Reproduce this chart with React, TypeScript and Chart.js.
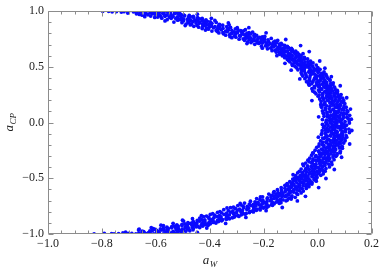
import React, { useEffect, useRef } from "react";
import { Chart, registerables } from "chart.js";

Chart.register(...registerables);

const xTicks = [-1.0, -0.8, -0.6, -0.4, -0.2, 0.0, 0.2];
const yTicks = [-1.0, -0.5, 0.0, 0.5, 1.0];
const xTitle = { main: "a", sub: "W" };
const yTitle = { main: "a", sub: "CP" };

// [a_W, a_CP] samples (a_CP > 0)
const upperBranch: [number, number][] = [
  [0.031,0.004],[0.074,0.016],[0.102,0.009],[0.052,0.012],
  [0.018,0.027],[0.088,0.022],[0.061,0.035],[0.113,0.038],
  [0.044,0.043],[0.097,0.051],[0.024,0.057],[0.069,0.048],
  [0.083,0.064],[0.036,0.071],[0.108,0.077],[0.058,0.062],
  [0.021,0.085],[0.076,0.093],[0.047,0.098],[0.099,0.082],
  [0.064,0.103],[0.029,0.114],[0.091,0.119],[0.109,0.107],
  [0.043,0.124],[0.081,0.132],[0.015,0.137],[0.066,0.139],
  [0.098,0.143],[0.034,0.151],[0.057,0.158],[0.085,0.155],
  [0.012,0.163],[0.071,0.168],[0.046,0.176],[0.096,0.179],
  [0.027,0.184],[0.062,0.191],[0.088,0.187],[0.039,0.198],
  [0.079,0.203],[0.008,0.212],[0.053,0.217],[0.093,0.219],
  [0.031,0.224],[0.068,0.229],[0.002,0.237],[0.084,0.238],
  [0.047,0.243],[0.019,0.251],[0.075,0.256],[-0.006,0.259],
  [0.061,0.262],[0.032,0.268],[0.007,0.276],[0.074,0.279],
  [-0.018,0.283],[0.044,0.287],[0.066,0.296],[0.015,0.299],
  [0.052,0.304],[-0.011,0.311],[0.028,0.316],[0.063,0.318],
  [0.004,0.323],[0.041,0.327],[-0.031,0.336],[0.057,0.339],
  [0.018,0.344],[-0.022,0.349],[0.049,0.353],[-0.004,0.358],
  [0.033,0.362],[-0.041,0.367],[0.009,0.373],[0.046,0.379],
  [-0.014,0.383],[0.024,0.388],[-0.047,0.394],[0.038,0.397],
  [-0.029,0.403],[0.011,0.409],[0.034,0.414],[-0.055,0.418],
  [-0.006,0.423],[-0.043,0.428],[0.022,0.435],[-0.021,0.439],
  [0.015,0.442],[-0.061,0.448],[-0.032,0.453],[0.004,0.458],
  [-0.049,0.464],[-0.012,0.467],[-0.073,0.474],[0.009,0.478],
  [-0.028,0.483],[-0.062,0.488],[0.001,0.494],[-0.044,0.498],
  [-0.083,0.502],[-0.019,0.506],[-0.054,0.511],[-0.005,0.516],[-0.071,0.519],
  [-0.036,0.523],[-0.095,0.527],[-0.061,0.532],[-0.017,0.536],[-0.079,0.539],
  [-0.047,0.543],[-0.103,0.546],[-0.026,0.552],[-0.072,0.555],[-0.089,0.559],
  [-0.058,0.562],[-0.112,0.567],[-0.037,0.571],[-0.084,0.576],[-0.069,0.579],
  [-0.122,0.583],[-0.049,0.586],[-0.096,0.592],[-0.071,0.595],[-0.131,0.599],
  [-0.062,0.603],[-0.108,0.607],[-0.141,0.613],[-0.083,0.616],[-0.054,0.619],
  [-0.127,0.622],[-0.074,0.626],[-0.153,0.632],[-0.096,0.635],[-0.113,0.639],
  [-0.081,0.642],[-0.169,0.646],[-0.124,0.651],[-0.102,0.655],[-0.147,0.658],
  [-0.186,0.663],[-0.097,0.667],[-0.139,0.672],[-0.118,0.676],[-0.164,0.679],
  [-0.112,0.683],[-0.208,0.686],[-0.157,0.691],[-0.184,0.695],[-0.131,0.698],
  [-0.233,0.703],[-0.141,0.705],[-0.176,0.709],[-0.205,0.714],[-0.152,0.717],[-0.247,0.719],
  [-0.164,0.722],[-0.259,0.725],[-0.198,0.729],[-0.227,0.733],[-0.148,0.737],[-0.271,0.739],
  [-0.184,0.742],[-0.238,0.745],[-0.291,0.749],[-0.207,0.753],[-0.172,0.756],[-0.263,0.759],
  [-0.318,0.762],[-0.215,0.764],[-0.252,0.769],[-0.196,0.773],[-0.287,0.776],[-0.236,0.779],
  [-0.226,0.782],[-0.341,0.785],[-0.271,0.788],[-0.305,0.793],[-0.248,0.796],[-0.322,0.799],
  [-0.262,0.802],[-0.366,0.805],[-0.297,0.809],[-0.241,0.813],[-0.335,0.816],[-0.283,0.819],
  [-0.392,0.822],[-0.274,0.824],[-0.318,0.828],[-0.357,0.833],[-0.296,0.836],[-0.405,0.839],
  [-0.305,0.842],[-0.428,0.844],[-0.351,0.847],[-0.386,0.851],[-0.323,0.854],[-0.441,0.857],[-0.369,0.859],
  [-0.337,0.862],[-0.459,0.864],[-0.394,0.867],[-0.418,0.871],[-0.352,0.874],[-0.472,0.877],[-0.405,0.879],
  [-0.364,0.882],[-0.488,0.884],[-0.427,0.887],[-0.392,0.891],[-0.451,0.894],[-0.503,0.897],[-0.376,0.899],
  [-0.533,0.902],[-0.398,0.904],[-0.462,0.907],[-0.421,0.911],[-0.497,0.914],[-0.381,0.917],[-0.519,0.919],[-0.445,0.913],
  [-0.414,0.922],[-0.558,0.924],[-0.483,0.927],[-0.437,0.931],[-0.526,0.934],[-0.578,0.937],[-0.459,0.939],[-0.508,0.929],
  [-0.445,0.942],[-0.604,0.944],[-0.521,0.946],[-0.472,0.951],[-0.566,0.954],[-0.619,0.957],[-0.493,0.959],[-0.547,0.949],
  [-0.476,0.962],[-0.651,0.964],[-0.558,0.966],[-0.508,0.971],[-0.603,0.973],[-0.672,0.977],[-0.531,0.979],[-0.587,0.969],[-0.629,0.968],
  [-0.512,0.982],[-0.704,0.984],[-0.593,0.986],[-0.547,0.991],[-0.652,0.993],[-0.746,0.997],[-0.568,0.999],[-0.621,0.989],[-0.683,0.995],[-0.531,0.996],[-0.612,0.998],[-0.775,0.999],
  [-0.762,0.994],[-0.728,0.992],[-0.797,0.999],
];

// further [a_W, a_CP] samples in the core of the upper branch
const upperCore: [number, number][] = [
  [0.062,0.007],[0.087,0.002],[0.045,0.018],[0.081,0.013],[0.117,0.015],
  [0.071,0.024],[0.049,0.031],[0.094,0.037],[0.033,0.021],[0.058,0.039],
  [0.081,0.041],[0.058,0.054],[0.109,0.046],[0.037,0.052],[0.075,0.059],
  [0.049,0.066],[0.095,0.069],[0.067,0.074],[0.023,0.079],[0.119,0.065],
  [0.061,0.081],[0.088,0.087],[0.035,0.091],[0.069,0.096],[0.112,0.099],
  [0.047,0.101],[0.079,0.108],[0.018,0.104],[0.057,0.116],[0.097,0.112],
  [0.058,0.121],[0.095,0.126],[0.029,0.129],[0.074,0.134],[0.106,0.138],
  [0.069,0.141],[0.046,0.146],[0.013,0.149],[0.076,0.152],[0.022,0.159],
  [0.059,0.161],[0.084,0.164],[0.027,0.171],[0.052,0.173],[0.101,0.169],
  [0.048,0.181],[0.075,0.186],[0.013,0.189],[0.054,0.194],[0.097,0.196],
  [0.037,0.201],[0.066,0.207],[0.022,0.209],[0.081,0.214],[0.045,0.219],
  [0.052,0.221],[0.018,0.227],[0.077,0.232],[0.039,0.234],[0.061,0.239],
  [0.034,0.241],[0.062,0.246],[0.006,0.247],[0.041,0.254],[0.087,0.252],
  [0.019,0.261],[0.049,0.265],[0.068,0.271],[-0.011,0.273],[0.039,0.277],
  [0.027,0.281],[0.055,0.284],[0.003,0.292],[0.035,0.294],[0.073,0.289],
  [0.013,0.302],[0.038,0.306],[-0.021,0.304],[0.044,0.313],[0.007,0.319],
  [0.023,0.321],[-0.012,0.325],[0.031,0.331],[0.049,0.334],[-0.003,0.338],
  [0.007,0.341],[0.034,0.346],[-0.034,0.352],[0.025,0.355],[0.058,0.357],
  [0.021,0.364],[-0.018,0.365],[0.003,0.369],[-0.029,0.376],[0.027,0.377],
  [0.009,0.381],[-0.031,0.385],[0.045,0.386],[-0.004,0.391],[0.014,0.399],
  [-0.011,0.401],[0.021,0.405],[-0.041,0.411],[-0.002,0.416],[0.019,0.419],
  [0.008,0.421],[-0.027,0.425],[-0.058,0.431],[0.031,0.432],[-0.012,0.437],
  [-0.019,0.441],[-0.046,0.445],[0.002,0.449],[-0.023,0.456],[0.024,0.454],
  [-0.031,0.461],[0.001,0.463],[-0.058,0.469],[-0.024,0.471],[-0.004,0.476],
  [-0.049,0.481],[-0.013,0.486],[-0.077,0.491],[-0.031,0.493],[-0.057,0.499],
  [-0.036,0.501],[-0.062,0.508],[-0.041,0.514],[-0.093,0.513],[-0.028,0.518],
  [-0.048,0.521],[-0.073,0.524],[-0.026,0.529],[-0.085,0.534],[-0.057,0.537],
  [-0.059,0.541],[-0.081,0.548],[-0.036,0.546],[-0.064,0.553],[-0.108,0.557],
  [-0.071,0.561],[-0.093,0.564],[-0.049,0.569],[-0.102,0.573],[-0.063,0.577],
  [-0.083,0.581],[-0.107,0.588],[-0.061,0.589],[-0.117,0.596],[-0.079,0.597],
  [-0.094,0.601],[-0.121,0.605],[-0.069,0.609],[-0.101,0.612],[-0.127,0.618],
  [-0.108,0.621],[-0.136,0.624],[-0.087,0.628],[-0.141,0.633],[-0.121,0.637],
  [-0.133,0.641],[-0.113,0.644],[-0.158,0.649],[-0.093,0.652],[-0.136,0.657],
  [-0.151,0.661],[-0.127,0.665],[-0.174,0.669],[-0.108,0.673],[-0.146,0.678],
  [-0.169,0.681],[-0.141,0.684],[-0.193,0.688],[-0.122,0.693],[-0.167,0.697],
  [-0.189,0.701],[-0.163,0.707],[-0.218,0.711],[-0.135,0.712],[-0.191,0.716],[-0.223,0.718],
  [-0.212,0.721],[-0.182,0.727],[-0.243,0.731],[-0.158,0.731],[-0.209,0.736],[-0.236,0.738],
  [-0.224,0.741],[-0.253,0.747],[-0.197,0.748],[-0.276,0.752],[-0.221,0.755],[-0.248,0.758],
  [-0.268,0.761],[-0.234,0.766],[-0.303,0.767],[-0.205,0.769],[-0.262,0.774],[-0.309,0.778],
  [-0.289,0.781],[-0.258,0.786],[-0.326,0.789],[-0.234,0.791],[-0.281,0.794],[-0.349,0.797],
  [-0.318,0.801],[-0.279,0.804],[-0.351,0.807],[-0.254,0.808],[-0.309,0.814],[-0.372,0.817],
  [-0.341,0.821],[-0.285,0.826],[-0.376,0.827],[-0.331,0.831],[-0.268,0.834],[-0.369,0.838],
  [-0.372,0.841],[-0.334,0.845],[-0.412,0.849],[-0.298,0.852],[-0.364,0.856],[-0.401,0.858],
  [-0.381,0.861],[-0.426,0.866],[-0.367,0.869],[-0.447,0.872],[-0.399,0.876],[-0.328,0.878],
  [-0.414,0.881],[-0.467,0.886],[-0.398,0.889],[-0.439,0.892],[-0.479,0.896],[-0.418,0.898],
  [-0.438,0.901],[-0.481,0.906],[-0.409,0.909],[-0.474,0.912],[-0.503,0.916],[-0.455,0.918],[-0.428,0.915],
  [-0.471,0.921],[-0.514,0.925],[-0.446,0.928],[-0.497,0.932],[-0.543,0.936],[-0.479,0.938],[-0.428,0.935],
  [-0.505,0.941],[-0.549,0.945],[-0.478,0.948],[-0.536,0.952],[-0.582,0.955],[-0.511,0.958],[-0.461,0.954],[-0.593,0.947],
  [-0.541,0.961],[-0.592,0.965],[-0.497,0.967],[-0.569,0.972],[-0.638,0.974],[-0.546,0.976],[-0.518,0.974],[-0.612,0.978],[-0.661,0.971],
  [-0.574,0.981],[-0.638,0.983],[-0.529,0.985],[-0.603,0.988],[-0.672,0.991],[-0.556,0.993],[-0.637,0.996],[-0.585,0.997],[-0.701,0.998],[-0.548,0.999],[-0.661,0.999],[-0.595,0.992],[-0.718,0.996],[-0.523,0.991],
];

// stray [a_W, a_CP] points just outside the upper band
const upperStray: [number, number][] = [
  [0.125,0.031],[0.122,0.121],[0.004,0.052],[0.108,0.223],[-0.021,0.198],
  [0.084,0.331],[-0.066,0.392],[0.051,0.412],[-0.098,0.471],[0.027,0.489],
  [-0.121,0.532],[0.008,0.553],[-0.151,0.601],[-0.031,0.638],[-0.205,0.668],
  [-0.063,0.691],[-0.262,0.709],[-0.118,0.746],[-0.325,0.771],[-0.191,0.806],
  [-0.416,0.831],[-0.255,0.852],[-0.491,0.871],[-0.331,0.895],[-0.566,0.913],
  [-0.394,0.936],[-0.641,0.951],[-0.446,0.973],
];

// [a_W, a_CP] samples (a_CP < 0)
const lowerBranch: [number, number][] = [
  [0.046,-0.003],[0.091,-0.011],[0.018,-0.016],[0.066,-0.019],
  [0.107,-0.024],[0.039,-0.028],[0.079,-0.033],[0.057,-0.039],
  [0.022,-0.044],[0.094,-0.047],[0.063,-0.053],[0.116,-0.058],
  [0.041,-0.062],[0.085,-0.066],[0.017,-0.073],[0.069,-0.077],
  [0.103,-0.083],[0.052,-0.088],[0.029,-0.094],[0.089,-0.099],
  [0.072,-0.102],[0.014,-0.107],[0.047,-0.113],[0.106,-0.118],
  [0.036,-0.123],[0.093,-0.128],[0.061,-0.134],[0.019,-0.139],
  [0.078,-0.142],[0.101,-0.147],[0.042,-0.153],[0.057,-0.158],
  [0.011,-0.164],[0.087,-0.166],[0.031,-0.173],[0.068,-0.178],
  [0.097,-0.183],[0.049,-0.187],[0.006,-0.192],[0.074,-0.197],
  [0.023,-0.204],[0.058,-0.209],[0.091,-0.213],[0.037,-0.218],
  [-0.003,-0.222],[0.081,-0.227],[0.046,-0.233],[0.014,-0.238],
  [0.067,-0.244],[-0.009,-0.248],[0.029,-0.252],[0.084,-0.257],
  [0.051,-0.263],[0.006,-0.267],[-0.016,-0.274],[0.073,-0.278],
  [0.038,-0.282],[0.059,-0.289],[-0.022,-0.293],[0.013,-0.298],
  [0.068,-0.302],[-0.008,-0.307],[0.026,-0.314],[-0.029,-0.319],
  [0.045,-0.324],[0.002,-0.328],[0.061,-0.333],[-0.036,-0.337],
  [0.017,-0.343],[-0.019,-0.347],[0.052,-0.354],[0.031,-0.359],
  [-0.044,-0.363],[0.008,-0.368],[0.041,-0.372],[-0.013,-0.378],
  [0.027,-0.384],[-0.052,-0.387],[-0.024,-0.393],[0.044,-0.398],
  [0.003,-0.402],[-0.037,-0.408],[0.031,-0.413],[-0.061,-0.417],
  [-0.015,-0.422],[0.019,-0.429],[-0.048,-0.434],[-0.068,-0.438],
  [0.007,-0.443],[-0.029,-0.447],[-0.074,-0.452],[0.021,-0.459],
  [-0.056,-0.462],[-0.008,-0.468],[0.012,-0.473],[-0.081,-0.477],
  [-0.036,-0.483],[-0.067,-0.487],[-0.002,-0.492],[-0.085,-0.498],
  [-0.045,-0.503],[-0.092,-0.507],[-0.013,-0.511],[-0.069,-0.514],[-0.028,-0.519],
  [-0.081,-0.522],[-0.005,-0.526],[-0.103,-0.531],[-0.052,-0.535],[-0.033,-0.539],
  [-0.064,-0.542],[-0.113,-0.547],[-0.021,-0.551],[-0.089,-0.554],[-0.041,-0.558],
  [-0.121,-0.563],[-0.054,-0.566],[-0.098,-0.571],[-0.032,-0.575],[-0.077,-0.578],
  [-0.066,-0.582],[-0.135,-0.585],[-0.042,-0.591],[-0.104,-0.594],[-0.087,-0.598],
  [-0.149,-0.602],[-0.076,-0.606],[-0.118,-0.612],[-0.053,-0.615],[-0.097,-0.619],
  [-0.089,-0.623],[-0.163,-0.627],[-0.061,-0.631],[-0.131,-0.636],[-0.109,-0.639],
  [-0.181,-0.642],[-0.074,-0.645],[-0.142,-0.651],[-0.116,-0.654],[-0.095,-0.659],[-0.163,-0.657],
  [-0.132,-0.662],[-0.204,-0.666],[-0.083,-0.671],[-0.159,-0.674],[-0.107,-0.679],[-0.186,-0.677],
  [-0.226,-0.682],[-0.098,-0.686],[-0.171,-0.689],[-0.128,-0.694],[-0.203,-0.697],[-0.149,-0.699],
  [-0.117,-0.702],[-0.249,-0.706],[-0.188,-0.709],[-0.154,-0.713],[-0.221,-0.716],[-0.136,-0.719],
  [-0.271,-0.722],[-0.142,-0.725],[-0.205,-0.729],[-0.238,-0.734],[-0.171,-0.737],[-0.284,-0.739],
  [-0.167,-0.742],[-0.296,-0.745],[-0.229,-0.748],[-0.261,-0.753],[-0.194,-0.756],[-0.312,-0.759],
  [-0.188,-0.762],[-0.323,-0.764],[-0.256,-0.768],[-0.214,-0.772],[-0.289,-0.776],[-0.237,-0.779],
  [-0.348,-0.782],[-0.213,-0.784],[-0.279,-0.788],[-0.314,-0.793],[-0.242,-0.796],[-0.362,-0.799],
  [-0.238,-0.802],[-0.371,-0.805],[-0.301,-0.808],[-0.337,-0.812],[-0.265,-0.815],[-0.389,-0.818],
  [-0.269,-0.822],[-0.398,-0.825],[-0.327,-0.828],[-0.296,-0.833],[-0.364,-0.836],[-0.412,-0.839],
  [-0.292,-0.842],[-0.423,-0.844],[-0.358,-0.847],[-0.384,-0.851],[-0.316,-0.854],[-0.437,-0.857],[-0.339,-0.859],
  [-0.464,-0.862],[-0.327,-0.864],[-0.389,-0.867],[-0.352,-0.871],[-0.418,-0.874],[-0.446,-0.877],[-0.371,-0.879],
  [-0.356,-0.882],[-0.497,-0.884],[-0.421,-0.887],[-0.384,-0.891],[-0.462,-0.894],[-0.403,-0.897],[-0.481,-0.899],
  [-0.377,-0.902],[-0.536,-0.904],[-0.449,-0.907],[-0.412,-0.911],[-0.503,-0.914],[-0.431,-0.917],[-0.522,-0.919],[-0.468,-0.913],
  [-0.406,-0.922],[-0.572,-0.924],[-0.488,-0.927],[-0.443,-0.931],[-0.541,-0.934],[-0.465,-0.937],[-0.559,-0.939],[-0.517,-0.929],
  [-0.437,-0.942],[-0.617,-0.944],[-0.526,-0.946],[-0.478,-0.951],[-0.583,-0.954],[-0.502,-0.957],[-0.601,-0.959],[-0.554,-0.949],
  [-0.462,-0.962],[-0.664,-0.964],[-0.571,-0.966],[-0.507,-0.971],[-0.622,-0.973],[-0.536,-0.977],[-0.645,-0.979],[-0.596,-0.969],[-0.489,-0.975],
  [-0.506,-0.982],[-0.712,-0.984],[-0.598,-0.986],[-0.541,-0.991],[-0.663,-0.993],[-0.738,-0.997],[-0.572,-0.999],[-0.627,-0.989],[-0.689,-0.995],[-0.524,-0.996],[-0.609,-0.998],[-0.755,-0.999],
  [-0.829,-0.998],[-0.764,-0.996],
];

// further [a_W, a_CP] samples in the core of the lower branch
const lowerCore: [number, number][] = [
  [0.071,-0.006],[0.033,-0.008],[0.098,-0.014],[0.054,-0.017],[0.118,-0.004],
  [0.064,-0.022],[0.089,-0.027],[0.027,-0.031],[0.071,-0.036],[0.101,-0.038],
  [0.049,-0.041],[0.076,-0.046],[0.035,-0.051],[0.085,-0.054],[0.057,-0.059],
  [0.061,-0.061],[0.104,-0.064],[0.029,-0.068],[0.052,-0.072],[0.092,-0.079],
  [0.039,-0.081],[0.073,-0.084],[0.118,-0.089],[0.064,-0.092],[0.016,-0.097],
  [0.058,-0.101],[0.093,-0.106],[0.031,-0.109],[0.082,-0.115],[0.062,-0.119],
  [0.049,-0.121],[0.074,-0.124],[0.108,-0.131],[0.029,-0.132],[0.081,-0.138],
  [0.024,-0.141],[0.062,-0.145],[0.089,-0.151],[0.036,-0.156],[0.069,-0.159],
  [0.047,-0.161],[0.102,-0.163],[0.059,-0.169],[0.079,-0.174],[0.019,-0.176],
  [0.033,-0.181],[0.061,-0.185],[0.084,-0.189],[0.042,-0.194],[0.018,-0.199],
  [0.071,-0.202],[0.047,-0.206],[0.005,-0.211],[0.063,-0.216],[0.081,-0.219],
  [0.024,-0.221],[0.059,-0.224],[0.033,-0.229],[0.092,-0.231],[0.066,-0.236],
  [0.044,-0.241],[0.018,-0.246],[0.055,-0.249],[0.004,-0.254],[0.039,-0.259],
  [0.027,-0.261],[0.063,-0.265],[0.036,-0.269],[0.084,-0.271],[0.018,-0.277],
  [0.049,-0.281],[0.008,-0.285],[0.027,-0.287],[0.071,-0.294],[-0.006,-0.296],
  [0.011,-0.301],[0.041,-0.304],[0.057,-0.309],[0.003,-0.312],[0.035,-0.317],
  [0.022,-0.321],[-0.017,-0.326],[0.031,-0.329],[0.009,-0.335],[-0.007,-0.339],
  [0.041,-0.341],[-0.004,-0.345],[0.008,-0.349],[-0.031,-0.352],[0.024,-0.357],
  [0.019,-0.361],[-0.021,-0.364],[0.027,-0.369],[-0.006,-0.374],[0.053,-0.376],
  [0.011,-0.381],[-0.011,-0.385],[-0.037,-0.389],[0.018,-0.394],[-0.006,-0.399],
  [-0.021,-0.401],[0.017,-0.404],[-0.009,-0.411],[-0.044,-0.414],[0.008,-0.419],
  [-0.031,-0.421],[0.006,-0.425],[-0.019,-0.431],[0.028,-0.436],[-0.003,-0.439],
  [-0.041,-0.441],[-0.011,-0.446],[-0.057,-0.449],[-0.018,-0.454],[0.003,-0.457],
  [-0.031,-0.461],[-0.044,-0.465],[-0.019,-0.471],[-0.063,-0.474],[-0.004,-0.479],
  [-0.051,-0.481],[-0.021,-0.485],[-0.042,-0.489],[-0.074,-0.494],[-0.013,-0.496],
  [-0.059,-0.501],[-0.033,-0.505],[-0.079,-0.509],[-0.051,-0.516],[-0.006,-0.513],
  [-0.066,-0.521],[-0.041,-0.524],[-0.091,-0.528],[-0.062,-0.533],[-0.021,-0.537],
  [-0.077,-0.541],[-0.052,-0.545],[-0.097,-0.549],[-0.031,-0.552],[-0.069,-0.557],
  [-0.088,-0.561],[-0.067,-0.564],[-0.109,-0.569],[-0.043,-0.572],[-0.081,-0.577],
  [-0.098,-0.581],[-0.076,-0.583],[-0.121,-0.589],[-0.057,-0.593],[-0.109,-0.597],
  [-0.109,-0.601],[-0.089,-0.604],[-0.134,-0.609],[-0.067,-0.611],[-0.103,-0.617],
  [-0.121,-0.621],[-0.101,-0.625],[-0.147,-0.628],[-0.079,-0.633],[-0.138,-0.637],
  [-0.129,-0.641],[-0.154,-0.647],[-0.106,-0.649],[-0.171,-0.653],[-0.127,-0.658],
  [-0.146,-0.661],[-0.119,-0.664],[-0.173,-0.668],[-0.097,-0.673],[-0.151,-0.676],
  [-0.161,-0.681],[-0.187,-0.684],[-0.137,-0.688],[-0.214,-0.692],[-0.113,-0.696],
  [-0.176,-0.701],[-0.207,-0.704],[-0.145,-0.708],[-0.232,-0.711],[-0.168,-0.715],[-0.197,-0.718],
  [-0.194,-0.721],[-0.226,-0.726],[-0.161,-0.728],[-0.253,-0.731],[-0.188,-0.735],[-0.217,-0.738],
  [-0.212,-0.741],[-0.248,-0.744],[-0.181,-0.749],[-0.276,-0.751],[-0.236,-0.755],[-0.205,-0.758],
  [-0.237,-0.761],[-0.274,-0.765],[-0.201,-0.767],[-0.305,-0.771],[-0.261,-0.774],[-0.226,-0.777],
  [-0.262,-0.781],[-0.297,-0.786],[-0.227,-0.787],[-0.331,-0.791],[-0.284,-0.794],[-0.251,-0.798],
  [-0.284,-0.801],[-0.322,-0.804],[-0.253,-0.807],[-0.356,-0.811],[-0.311,-0.814],[-0.276,-0.817],
  [-0.311,-0.821],[-0.347,-0.824],[-0.283,-0.827],[-0.381,-0.831],[-0.338,-0.835],[-0.306,-0.838],
  [-0.336,-0.841],[-0.371,-0.845],[-0.309,-0.848],[-0.404,-0.852],[-0.362,-0.855],[-0.329,-0.858],
  [-0.363,-0.861],[-0.402,-0.865],[-0.338,-0.868],[-0.431,-0.869],[-0.391,-0.873],[-0.356,-0.876],[-0.423,-0.878],
  [-0.396,-0.881],[-0.437,-0.885],[-0.368,-0.888],[-0.461,-0.889],[-0.418,-0.893],[-0.387,-0.896],[-0.448,-0.898],
  [-0.426,-0.901],[-0.471,-0.905],[-0.398,-0.908],[-0.492,-0.909],[-0.454,-0.912],[-0.419,-0.916],[-0.483,-0.918],
  [-0.458,-0.921],[-0.503,-0.925],[-0.426,-0.928],[-0.531,-0.929],[-0.482,-0.933],[-0.449,-0.936],[-0.521,-0.938],
  [-0.491,-0.941],[-0.541,-0.945],[-0.461,-0.948],[-0.572,-0.949],[-0.516,-0.953],[-0.483,-0.956],[-0.558,-0.958],[-0.609,-0.952],
  [-0.524,-0.961],[-0.581,-0.965],[-0.496,-0.967],[-0.613,-0.968],[-0.553,-0.972],[-0.518,-0.976],[-0.592,-0.978],[-0.651,-0.974],[-0.474,-0.971],
  [-0.563,-0.981],[-0.621,-0.983],[-0.532,-0.986],[-0.651,-0.987],[-0.587,-0.991],[-0.549,-0.993],[-0.634,-0.996],[-0.596,-0.998],[-0.702,-0.995],[-0.517,-0.999],[-0.674,-0.999],[-0.561,-0.996],[-0.722,-0.991],[-0.643,-0.989],
];

// stray [a_W, a_CP] points just outside the lower band
const lowerStray: [number, number][] = [
  [0.127,-0.071],[0.003,-0.131],[0.119,-0.192],[-0.018,-0.271],[0.089,-0.311],
  [-0.055,-0.372],[0.062,-0.421],[-0.091,-0.468],[0.031,-0.502],[-0.115,-0.561],
  [0.004,-0.583],[-0.161,-0.619],[-0.045,-0.662],[-0.212,-0.668],[-0.075,-0.703],
  [-0.287,-0.726],[-0.131,-0.762],[-0.336,-0.766],[-0.191,-0.791],[-0.431,-0.836],
  [-0.266,-0.851],[-0.501,-0.876],[-0.341,-0.905],[-0.581,-0.921],[-0.411,-0.946],
  [-0.662,-0.956],[-0.446,-0.985],[-0.791,-0.994],
];

const POINT_COLOR = "#0a0aff";
const POINT_RADIUS = 1.9;
const FRAME_COLOR = "#8c8c8c";
const TEXT_COLOR = "#222";
const SERIF = "'Liberation Serif', 'Times New Roman', serif";

const fmt = (v: number) => {
  const n = Math.abs(v) < 1e-9 ? 0 : v;
  return n.toFixed(1).replace("-", "\u2212");
};

const framePlugin = {
  id: "mmaFrame",
  afterDatasetsDraw(chart: any) {
    const { ctx, chartArea, scales } = chart;
    const { left, right, top, bottom } = chartArea;
    const x = scales.x;
    const y = scales.y;
    const L = Math.round(left) + 0.5;
    const R = Math.round(right) - 0.5;
    const T = Math.round(top) + 0.5;
    const B = Math.round(bottom) - 0.5;
    ctx.save();
    ctx.strokeStyle = FRAME_COLOR;
    ctx.lineWidth = 1;
    ctx.beginPath();
    ctx.rect(L, T, R - L, B - T);
    ctx.stroke();
    ctx.beginPath();
    for (let k = 0; k <= 24; k++) {
      const v = -1 + k * 0.05;
      const px = Math.round(x.getPixelForValue(v)) + 0.5;
      const len = k % 4 === 0 ? 5 : 3;
      ctx.moveTo(px, B);
      ctx.lineTo(px, B - len);
      ctx.moveTo(px, T);
      ctx.lineTo(px, T + len);
    }
    for (let k = 0; k <= 20; k++) {
      const v = -1 + k * 0.1;
      const py = Math.round(y.getPixelForValue(v)) + 0.5;
      const len = k % 5 === 0 ? 5 : 3;
      ctx.moveTo(L, py);
      ctx.lineTo(L + len, py);
      ctx.moveTo(R, py);
      ctx.lineTo(R - len, py);
    }
    ctx.stroke();

    ctx.fillStyle = TEXT_COLOR;
    ctx.textBaseline = "alphabetic";
    const drawTitle = (t: { main: string; sub: string }, cx: number, cy: number) => {
      ctx.font = `italic 13px ${SERIF}`;
      const w1 = ctx.measureText(t.main).width;
      ctx.font = `italic 9px ${SERIF}`;
      const w2 = ctx.measureText(t.sub).width;
      const start = cx - (w1 + w2) / 2;
      ctx.font = `italic 13px ${SERIF}`;
      ctx.fillText(t.main, start, cy);
      ctx.font = `italic 9px ${SERIF}`;
      ctx.fillText(t.sub, start + w1 + 0.5, cy + 3);
    };
    drawTitle(xTitle, (left + right) / 2, 264);
    ctx.save();
    ctx.translate(13, (top + bottom) / 2);
    ctx.rotate(-Math.PI / 2);
    drawTitle(yTitle, 0, 0);
    ctx.restore();
    ctx.restore();
  },
};

const toXY = (arr: [number, number][]) => arr.map(([w, cp]) => ({ x: w, y: cp }));

export default function App() {
  const canvasRef = useRef<HTMLCanvasElement | null>(null);

  useEffect(() => {
    const canvas = canvasRef.current;
    if (!canvas) return;
    const tickFont = { family: SERIF, size: 12 };
    const ds = (label: string, arr: [number, number][]) => ({
      label,
      data: toXY(arr),
      backgroundColor: POINT_COLOR,
      pointRadius: POINT_RADIUS,
      pointBorderWidth: 0,
      borderWidth: 0,
    });
    const chart = new Chart(canvas, {
      type: "scatter",
      data: {
        datasets: [
          ds("upper", upperBranch),
          ds("upperCore", upperCore),
          ds("upperStray", upperStray),
          ds("lower", lowerBranch),
          ds("lowerCore", lowerCore),
          ds("lowerStray", lowerStray),
        ],
      },
      options: {
        responsive: false,
        animation: false,
        devicePixelRatio: 1,
        layout: { padding: { top: 6, right: 8, left: 0, bottom: 0 } },
        plugins: { legend: { display: false }, tooltip: { enabled: false } },
        scales: {
          x: {
            type: "linear",
            min: -1,
            max: 0.2,
            afterBuildTicks: (s: any) => {
              s.ticks = xTicks.map((v) => ({ value: v }));
            },
            afterFit: (s: any) => {
              s.height = 36;
            },
            ticks: {
              callback: (v: any) => fmt(Number(v)),
              font: tickFont,
              color: TEXT_COLOR,
              padding: 3,
              maxRotation: 0,
              autoSkip: false,
            },
            grid: { display: false, drawTicks: false },
            border: { display: false },
          },
          y: {
            type: "linear",
            min: -1,
            max: 1,
            afterBuildTicks: (s: any) => {
              s.ticks = yTicks.map((v) => ({ value: v }));
            },
            afterFit: (s: any) => {
              s.width = 48;
            },
            ticks: {
              callback: (v: any) => fmt(Number(v)),
              font: tickFont,
              color: TEXT_COLOR,
              padding: 4,
              autoSkip: false,
            },
            grid: { display: false, drawTicks: false },
            border: { display: false },
          },
        },
      },
      plugins: [framePlugin],
    } as any);
    return () => chart.destroy();
  }, []);

  return (
    <div style={{ position: "fixed", left: 0, top: 0, width: 382, height: 270, background: "#fff" }}>
      <canvas ref={canvasRef} width={382} height={270} style={{ display: "block" }} />
    </div>
  );
}
